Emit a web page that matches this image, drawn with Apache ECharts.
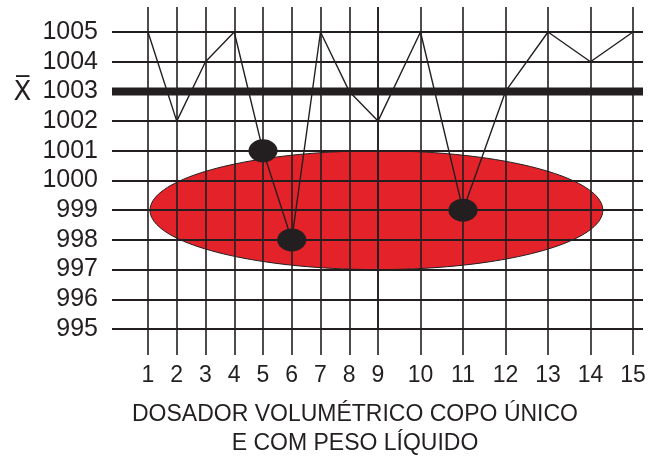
<!DOCTYPE html>
<html><head><meta charset="utf-8">
<script src="https://cdn.jsdelivr.net/npm/echarts@6/dist/echarts.min.js"></script>
<style>html,body{margin:0;padding:0;background:#fff}#c{width:649px;height:459px}</style>
</head><body><div id="c"></div>
<script>
// ---- data ----
const samples = [1,2,3,4,5,6,7,8,9,10,11,12,13,14,15];
const weights = [1005,1002,1004,1005,1001,998,1005,1003,1002,1005,999,1003,1005,1004,1005];
const outOfControl = [5,6,11];
const meanValue = 1003;
const yMin = 995, yMax = 1005;
const splitSample = 9;            // axis scale changes after this sample
const ellipseCenter = [9, 999];
const ellipseLeftEnd = 1.07;
const ellipseRightEnd = 14.29;
const ellipseHalfHeight = 2;
const titleLines = ['DOSADOR VOLUMÉTRICO COPO ÚNICO', 'E COM PESO LÍQUIDO'];

// ---- styles ----
const INK = '#231f20';
const RED = '#e42229';
const FONT = '"Liberation Sans", Arial, sans-serif';

const chart = echarts.init(document.getElementById('c'), null, {renderer:'canvas'});

function pts(kind){
  const list = [];
  samples.forEach((s,i)=>{
    if ((kind==='A' && s<=splitSample) || (kind==='B' && s>=splitSample)) {
      const hot = outOfControl.includes(s);
      list.push({value:[s, weights[i]], symbol: hot?'circle':'none', symbolSize:[29,23]});
    }
  });
  return list;
}

function halfEllipse(side){
  return function(params, api){
    const c = api.coord(ellipseCenter);
    const e = api.coord([side<0?ellipseLeftEnd:ellipseRightEnd, ellipseCenter[1]]);
    const t = api.coord([ellipseCenter[0], ellipseCenter[1]+ellipseHalfHeight]);
    const rx = Math.abs(e[0]-c[0]), ry = Math.abs(c[1]-t[1]);
    const points = [];
    for (let k=0;k<=80;k++){
      const a = -Math.PI/2 + Math.PI*k/80;
      points.push([c[0] + side*rx*Math.cos(a), c[1] + ry*Math.sin(a)]);
    }
    return {type:'polygon', shape:{points}, style:{fill:RED, stroke:INK, lineWidth:1}};
  };
}

function meanSeg(side, ext){
  return function(params, api){
    const c = api.coord([splitSample, meanValue]);
    const endX = side<0 ? api.coord([samples[0], meanValue])[0]-ext : api.coord([samples[samples.length-1], meanValue])[0]+ext;
    return {type:'line', shape:{x1:c[0], y1:c[1], x2:endX, y2:c[1]}, style:{stroke:INK, lineWidth:8}};
  };
}

const yLabel = {
  fontSize:25, color:INK, fontFamily:FONT, margin:50,
  formatter: v => v===meanValue ? '{bar|X\u0305}{gap|}{n|'+v+'}' : '{n|'+v+'}',
  rich:{
    bar:{fontSize:26, fontFamily:'"DejaVu Sans", sans-serif', color:INK, padding:[4,0,0,0]},
    gap:{width:11},
    n:{fontSize:25, fontFamily:FONT, color:INK}
  }
};

const split = {show:true, lineStyle:{color:INK, width:2}};
const vsplit = {show:true, lineStyle:{color:INK, width:1.6}};

chart.setOption({
  animation:false,
  backgroundColor:'#fff',
  grid:[
    {left:148, top:32, width:230, height:297},
    {left:378, top:32, width:255, height:297}
  ],
  xAxis:[
    {gridIndex:0, type:'value', position:'bottom', min:samples[0], max:splitSample, interval:1, z:3,
     axisLine:{show:false}, axisTick:{show:true, length:26, lineStyle:{color:INK, width:1.6}},
     axisLabel:{fontSize:23, color:INK, fontFamily:FONT, margin:35}, splitLine:vsplit},
    {gridIndex:0, type:'value', position:'top', min:samples[0], max:splitSample, interval:1, z:3,
     axisLine:{show:false}, axisTick:{show:true, length:25, lineStyle:{color:INK, width:1.6}},
     axisLabel:{show:false}, splitLine:{show:false}},
    {gridIndex:1, type:'value', position:'bottom', min:splitSample, max:samples[samples.length-1], interval:1, z:3,
     axisLine:{show:false}, axisTick:{show:true, length:26, lineStyle:{color:INK, width:1.6}},
     axisLabel:{fontSize:23, color:INK, fontFamily:FONT, margin:35, showMinLabel:false}, splitLine:vsplit},
    {gridIndex:1, type:'value', position:'top', min:splitSample, max:samples[samples.length-1], interval:1, z:3,
     axisLine:{show:false}, axisTick:{show:true, length:25, lineStyle:{color:INK, width:1.6}},
     axisLabel:{show:false}, splitLine:{show:false}}
  ],
  yAxis:[
    {gridIndex:0, type:'value', position:'left', min:yMin, max:yMax, interval:1, z:3,
     axisLine:{show:false}, axisTick:{show:true, length:36, lineStyle:{color:INK, width:2}},
     axisLabel:yLabel, splitLine:split},
    {gridIndex:1, type:'value', position:'right', min:yMin, max:yMax, interval:1, z:3,
     axisLine:{show:false}, axisTick:{show:true, length:10, lineStyle:{color:INK, width:2}},
     axisLabel:{show:false}, splitLine:split}
  ],
  series:[
    {type:'custom', xAxisIndex:0, yAxisIndex:0, z:1, clip:false, renderItem:halfEllipse(-1), data:[ellipseCenter]},
    {type:'custom', xAxisIndex:2, yAxisIndex:1, z:1, clip:false, renderItem:halfEllipse(1), data:[ellipseCenter]},
    {type:'custom', xAxisIndex:0, yAxisIndex:0, z:4, clip:false, renderItem:meanSeg(-1,36), data:[[splitSample, meanValue]]},
    {type:'custom', xAxisIndex:2, yAxisIndex:1, z:4, clip:false, renderItem:meanSeg(1,10), data:[[splitSample, meanValue]]},
    {type:'line', xAxisIndex:0, yAxisIndex:0, z:5, clip:false, data:pts('A'), showSymbol:true,
     lineStyle:{color:INK, width:1.4}, itemStyle:{color:INK}},
    {type:'line', xAxisIndex:2, yAxisIndex:1, z:5, clip:false, data:pts('B'), showSymbol:true,
     lineStyle:{color:INK, width:1.4}, itemStyle:{color:INK}}
  ],
  graphic:[
    {type:'text', x:355, y:400, z:10,
     style:{text:titleLines.join('\n'), textAlign:'center', textVerticalAlign:'top',
            fontSize:23, fontFamily:FONT, fill:INK, lineHeight:29}}
  ]
});
</script>
</body></html>
